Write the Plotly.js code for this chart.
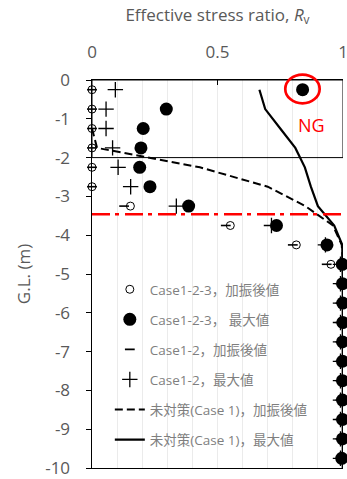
<!DOCTYPE html>
<html>
<head>
<meta charset="utf-8">
<script src="https://cdn.plot.ly/plotly-3.0.1.min.js"></script>
<style>html,body{margin:0;padding:0;background:#fff;}#chart{width:347px;height:479px;}</style>
</head>
<body>
<div id="chart"></div>
<script>
// Depths (G.L., m) of the measurement points
const depth = [-0.25,-0.75,-1.25,-1.75,-2.25,-2.75,-3.25,-3.75,-4.25,-4.75,-5.25,-5.75,-6.25,-6.75,-7.25,-7.75,-8.25,-8.75,-9.25,-9.75];
// Case1-2-3, after shaking (open circles)
const case123After = [0,0,0,0,0,0,0.153,0.551,0.814,0.952,0.995,0.995,0.995,0.995,0.995,0.995,0.995,0.995,0.995,0.995];
// Case1-2-3, maximum (filled circles)
const case123Max = [0.839,0.296,0.204,0.195,0.190,0.231,0.385,0.735,0.936,0.997,0.998,0.999,0.999,0.998,0.998,0.998,0.998,0.998,0.998,0.995];
// Case1-2, after shaking (dash marks)
const case12After = [0,0,0,0,0,0,0.128,0.533,0.800,0.935,0.99,0.99,0.99,0.99,0.99,0.99,0.99,0.99,0.99,0.99];
// Case1-2, maximum (plus marks)
const case12Max = [0.093,0.056,0.056,0.082,0.104,0.154,0.336,0.715,0.930,0.990,0.99,0.99,0.99,0.99,0.99,0.99,0.99,0.99,0.99,0.99];
// No countermeasure (Case 1), after shaking (dashed line)
const case1AfterDepth = [-1.25,-1.75,-2.25,-2.75,-3.25,-3.75,-4.25,-4.75,-10];
const case1After = [0,0.02,0.43,0.70,0.85,0.96,0.995,1.0,1.0];
// No countermeasure (Case 1), maximum (solid line)
const case1MaxDepth = [-0.25,-0.75,-1.25,-1.75,-2.25,-2.75,-3.25,-3.75,-4.25,-4.75,-5.25,-5.75,-6.25,-6.75,-7.25,-7.75,-8.25,-8.75,-9.25,-9.75,-10];
const case1Max = [0.667,0.69,0.75,0.81,0.848,0.872,0.90,0.965,0.997,0.999,0.999,0.999,0.999,0.999,0.999,0.999,0.999,0.999,0.999,0.999,0.999];
// Reference levels
const improvedBottom = -2.0;
const waterLevel = -3.46;
const legendNames = ['Case1-2-3，加振後値','Case1-2-3， 最大値','Case1-2，加振後値','Case1-2，最大値','未対策(Case 1)，加振後値','未対策(Case 1)，最大値'];
const yTickVals = [0,-1,-2,-3,-4,-5,-6,-7,-8,-9,-10];
const yTickText = ['0','-1','-2','-3','-4','-5','-6','-7','-8','-9','-10'];
const xTickVals = [0,0.5,1];
const xTickText = ['0','0.5','1'];

const FONT = '"Open Sans", "Noto Sans CJK JP", sans-serif';

const traces = [
  {x: case1Max, y: case1MaxDepth, mode:'lines', name: legendNames[5], legendrank: 6, legendgroup:'g6',
   line:{color:'#000', width:2.2}, cliponaxis:false},
  {x: case1After, y: case1AfterDepth, mode:'lines', name: legendNames[4], legendrank: 5, legendgroup:'g5',
   line:{color:'#000', width:2, dash:'8px,4px'}, cliponaxis:false},
  {x: case123After, y: depth, mode:'markers', name: legendNames[0], legendrank: 1, legendgroup:'g1',
   marker:{symbol:'circle-open', size:8, color:'#000', line:{width:1}}, cliponaxis:false},
  {x: case12After, y: depth, mode:'markers', name: legendNames[2], legendrank: 3, legendgroup:'g3',
   marker:{symbol:'line-ew', size:7, color:'#000', line:{width:1.6, color:'#000'}}, cliponaxis:false},
  {x: case12Max, y: depth, mode:'markers', name: legendNames[3], legendrank: 4, legendgroup:'g4',
   marker:{symbol:'cross-thin', size:11, color:'#000', line:{width:1.3, color:'#000'}}, cliponaxis:false},
  {x: case123Max, y: depth, mode:'markers', name: legendNames[1], legendrank: 2, legendgroup:'g2',
   marker:{symbol:'circle', size:13, color:'#000'}, cliponaxis:false}
];

const layout = {
  width:347, height:479,
  margin:{l:92, r:4, t:80, b:11},
  paper_bgcolor:'#fff', plot_bgcolor:'#fff',
  font:{family:FONT, color:'#595959', size:17},
  showlegend:true,
  legend:{x:0.071, y:0.5, xanchor:'left', yanchor:'top', bgcolor:'rgba(0,0,0,0)',
    font:{family:FONT, size:13.5, color:'#7f7f7f'}, tracegroupgap:9.5, itemwidth:30},
  xaxis:{side:'top', range:[0,1], tickvals:xTickVals, ticktext:xTickText, ticklabeloverflow:'allow',
    ticks:'inside', ticklen:5, tickcolor:'#000', showline:true, linecolor:'#000', linewidth:1, mirror:true,
    showgrid:true, gridcolor:'#ebebeb', gridwidth:1, zeroline:false, ticklabelstandoff:14,
    minor:{dtick:0.1, tick0:0, showgrid:true, gridcolor:'#ebebeb', gridwidth:1},
    title:{text:'Effective stress ratio, <i>R</i><sub>v</sub>', standoff:14, font:{size:17, color:'#595959'}},
    fixedrange:true},
  yaxis:{range:[-10,0], tickvals:yTickVals, ticktext:yTickText,
    ticks:'outside', ticklen:5, tickcolor:'#000', showline:true, linecolor:'#000', linewidth:1.5,
    showgrid:false, zeroline:false, ticklabelstandoff:12,
    title:{text:'G.L. (m)', standoff:10, font:{size:17, color:'#595959'}}, fixedrange:true},
  shapes:[
    {type:'rect', xref:'x', yref:'y', x0:0, x1:1, y0:0, y1:improvedBottom, line:{color:'#000', width:1}},
    {type:'line', xref:'x', yref:'y', x0:0, x1:1, y0:waterLevel, y1:waterLevel, line:{color:'#ff0000', width:2.6, dash:'18px,5px,4px,6px'}},
    {type:'circle', xref:'paper', yref:'paper', x0:0.770, x1:0.907, y0:0.94, y1:1.014, line:{color:'#ff0000', width:2.7}}
  ],
  annotations:[
    {text:'NG', xref:'x', yref:'y', x:0.876, y:-1.17, showarrow:false, font:{family:FONT, size:18, color:'#ff0000'}}
  ]
};

Plotly.newPlot('chart', traces, layout, {displayModeBar:false, staticPlot:true});
</script>
</body>
</html>
